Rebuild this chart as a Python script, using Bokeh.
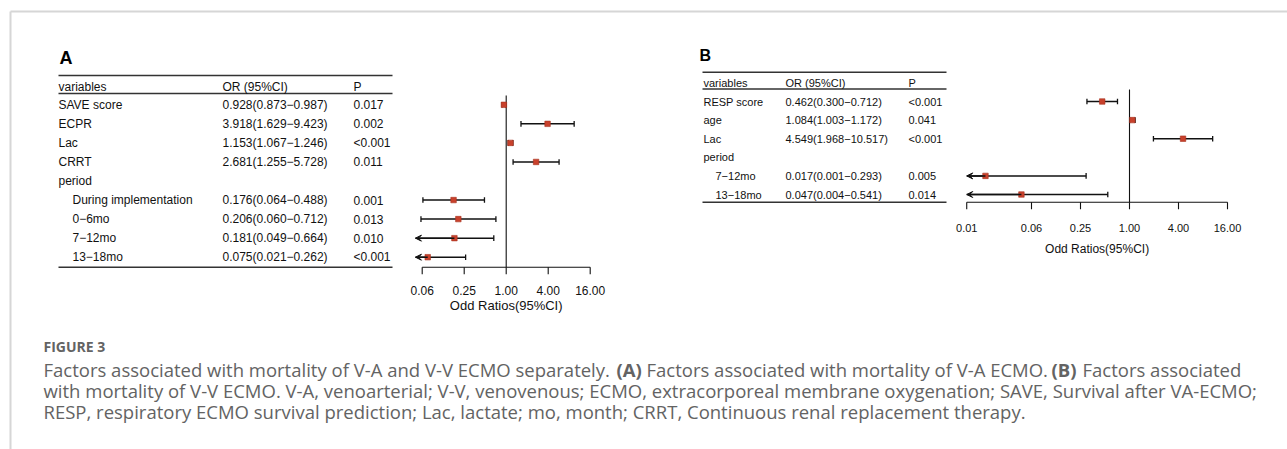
from bokeh.plotting import figure
from bokeh.models import Range1d, LogScale, ColumnDataSource, Arrow, VeeHead
from bokeh.core.properties import value
from bokeh.embed import file_html
from bokeh.resources import INLINE

# ---------------- data: panel A (V-A ECMO) ----------------
a_vars = ["SAVE score", "ECPR", "Lac", "CRRT", "period",
          "During implementation", "0\u22126mo", "7\u221212mo", "13\u221218mo"]
a_indent = [0, 0, 0, 0, 0, 1, 1, 1, 1]
a_or = [0.928, 3.918, 1.153, 2.681, None, 0.176, 0.206, 0.181, 0.075]
a_lo = [0.873, 1.629, 1.067, 1.255, None, 0.064, 0.060, 0.049, 0.021]
a_hi = [0.987, 9.423, 1.246, 5.728, None, 0.488, 0.712, 0.664, 0.262]
a_p = ["0.017", "0.002", "<0.001", "0.011", "", "0.001", "0.013", "0.010", "<0.001"]
a_ticks = [0.0625, 0.25, 1, 4, 16]
a_tick_labels = ["0.06", "0.25", "1.00", "4.00", "16.00"]
a_clip = 0.05

# ---------------- data: panel B (V-V ECMO) ----------------
b_vars = ["RESP score", "age", "Lac", "period", "7\u221212mo", "13\u221218mo"]
b_indent = [0, 0, 0, 0, 1, 1]
b_or = [0.462, 1.084, 4.549, None, 0.017, 0.047]
b_lo = [0.300, 1.003, 1.968, None, 0.001, 0.004]
b_hi = [0.712, 1.172, 10.517, None, 0.293, 0.541]
b_p = ["<0.001", "0.041", "<0.001", "", "0.005", "0.014"]
b_ticks = [0.01, 0.0625, 0.25, 1, 4, 16]
b_tick_labels = ["0.01", "0.06", "0.25", "1.00", "4.00", "16.00"]
b_clip = 0.01

header = ["variables", "OR (95%CI)", "P"]

caption_title = "FIGURE 3"
caption_line1 = [("Factors associated with mortality of V-A and V-V ECMO separately.", "normal"),
                 ("(A)", "bold"),
                 ("Factors associated with mortality of V-A ECMO.", "normal"),
                 ("(B)", "bold"),
                 ("Factors associated", "normal")]
caption_line2 = ("with mortality of V-V ECMO. V-A, venoarterial; V-V, venovenous; ECMO, "
                 "extracorporeal membrane oxygenation; SAVE, Survival after VA-ECMO;")
caption_line3 = ("RESP, respiratory ECMO survival prediction; Lac, lactate; mo, month; "
                 "CRRT, Continuous renal replacement therapy.")

W, H = 1287, 449
FONT = value("Liberation Sans")
CAPFONT = value("Open Sans")
INK = "#111111"
RULE = "#333333"
BOX = "#c8412c"

p = figure(width=W, height=H, x_range=Range1d(0, W), y_range=Range1d(H, 0),
           output_backend="svg", toolbar_location=None, min_border=0,
           x_axis_location=None, y_axis_location=None, outline_line_color=None)
p.grid.visible = False
p.background_fill_color = "white"

# log scales for the two forest panels (centre at OR=1 and px per doubling)
a_c, a_s = 505.7, 21.0
b_c, b_s = 1129.0, 24.5
p.extra_x_ranges = {
    "fa": Range1d(2 ** (-a_c / a_s), 2 ** ((W - a_c) / a_s)),
    "fb": Range1d(2 ** (-b_c / b_s), 2 ** ((W - b_c) / b_s)),
}
p.extra_x_scales = {"fa": LogScale(), "fb": LogScale()}

# figure frame (light border)
p.segment(x0=[10, 10], y0=[11, 11], x1=[W, 10], y1=[11, H], line_color="#d6d6d6", line_width=2)


def panel(letter, lx, ly, lsize, vars_, indent, ors, los, his, ps, ticks, tlabels, clip,
          rng, x_var, x_ind, x_or, x_p, x_rule0, x_rule1, y_top, y_head, y_hline, y_row0, dy,
          y_axis, y_tick_lab, y_axlab, fs, fs_tick, fs_axlab, vline_top):
    p.text(x=[lx], y=[ly], text=[letter], text_font=FONT, text_font_style="bold",
           text_font_size=lsize, text_baseline="middle", text_color="black")
    n = len(vars_)
    rows_y = [y_row0 + i * dy for i in range(n)]
    # rules
    p.segment(x0=[x_rule0] * 3, x1=[x_rule1] * 3, y0=[y_top, y_hline, y_axis],
              y1=[y_top, y_hline, y_axis], line_color=RULE, line_width=1.4)
    # header
    p.text(x=[x_var, x_or, x_p], y=[y_head] * 3, text=header, text_font=FONT,
           text_font_size=fs, text_baseline="middle", text_color=INK)
    # variable column
    p.text(x=[x_ind if ind else x_var for ind in indent], y=rows_y, text=vars_,
           text_font=FONT, text_font_size=fs, text_baseline="middle", text_color=INK)
    ci_txt = ["" if o is None else f"{o:.3f}({l:.3f}\u2212{h:.3f})" for o, l, h in zip(ors, los, his)]
    p.text(x=[x_or] * n, y=rows_y, text=ci_txt, text_font=FONT, text_font_size=fs,
           text_baseline="middle", text_color=INK)
    p.text(x=[x_p] * n, y=rows_y, text=ps, text_font=FONT, text_font_size=fs,
           text_baseline="middle", text_color=INK)

    idx = [i for i, o in enumerate(ors) if o is not None]
    ys = [rows_y[i] for i in idx]
    lo_c = [max(los[i], clip) for i in idx]
    hi_v = [his[i] for i in idx]
    # reference line at OR = 1
    p.segment(x0=[1], x1=[1], y0=[vline_top], y1=[y_axis], x_range_name=rng,
              line_color=INK, line_width=1.1)
    # CI lines
    p.segment(x0=lo_c, x1=hi_v, y0=ys, y1=ys, x_range_name=rng, line_color=INK, line_width=1.5)
    # caps
    cap_x = hi_v + [los[i] for i in idx if los[i] >= clip]
    cap_y = ys + [rows_y[i] for i in idx if los[i] >= clip]
    p.segment(x0=cap_x, x1=cap_x, y0=[y - 2.8 for y in cap_y], y1=[y + 2.8 for y in cap_y],
              x_range_name=rng, line_color=INK, line_width=1.3)
    # arrows where CI goes beyond the axis
    arr = [i for i in idx if los[i] < clip]
    if arr:
        src = ColumnDataSource(dict(xs=[ors[i] for i in arr], xe=[clip] * len(arr),
                                    y=[rows_y[i] for i in arr]))
        p.add_layout(Arrow(x_start="xs", x_end="xe", y_start="y", y_end="y", source=src,
                           x_range_name=rng, line_color=INK, line_width=1.5,
                           end=VeeHead(size=6, fill_color=INK, line_color=INK, line_width=1)))
    # point estimates
    p.scatter(x=[ors[i] for i in idx], y=ys, marker="square", size=5.5, x_range_name=rng,
              fill_color=BOX, line_color="#a8321f", line_width=0.6)
    # x axis
    p.segment(x0=[ticks[0]], x1=[ticks[-1]], y0=[y_axis], y1=[y_axis], x_range_name=rng,
              line_color=INK, line_width=1.1)
    p.segment(x0=ticks, x1=ticks, y0=[y_axis] * len(ticks), y1=[y_axis + 7] * len(ticks),
              x_range_name=rng, line_color=INK, line_width=1.1)
    p.text(x=ticks, y=[y_tick_lab] * len(ticks), text=tlabels, x_range_name=rng,
           text_font=FONT, text_font_size=fs_tick, text_align="center",
           text_baseline="middle", text_color=INK)
    p.text(x=[(ticks[0] * ticks[-1]) ** 0.5], y=[y_axlab], text=["Odd Ratios(95%CI)"],
           x_range_name=rng, text_font=FONT, text_font_size=fs_axlab, text_align="center",
           text_baseline="middle", text_color=INK)


panel("A", 59, 57, "18px", a_vars, a_indent, a_or, a_lo, a_hi, a_p, a_ticks, a_tick_labels,
      a_clip, "fa", 58, 72, 222, 353, 58, 392, 75, 86, 93, 104.3, 19.05,
      266.7, 290, 305, "12px", "12px", "13px", 95)

panel("B", 699, 55, "16px", b_vars, b_indent, b_or, b_lo, b_hi, b_p, b_ticks, b_tick_labels,
      b_clip, "fb", 703, 715, 785, 908, 702, 946, 71.7, 82.7, 88.5, 101, 18.6,
      201.7, 227, 248, "11px", "11px", "12px", 89)

# caption
CAPCOL = "#636363"
p.text(x=[43], y=[346], text=[caption_title], text_font=CAPFONT, text_font_style="bold",
       text_font_size="14px", text_baseline="middle", text_color=CAPCOL)
cap1_x = [43, 616, 646, 1051, 1082]
for (t, st), xx in zip(caption_line1, cap1_x):
    p.text(x=[xx], y=[369], text=[t], text_font=CAPFONT, text_font_style=st,
           text_font_size="18.5px", text_baseline="middle", text_color=CAPCOL)
p.text(x=[43, 43], y=[390, 411], text=[caption_line2, caption_line3], text_font=CAPFONT,
       text_font_size="18.5px", text_baseline="middle", text_color=CAPCOL)

open("out.html", "w").write(file_html(p, INLINE))
